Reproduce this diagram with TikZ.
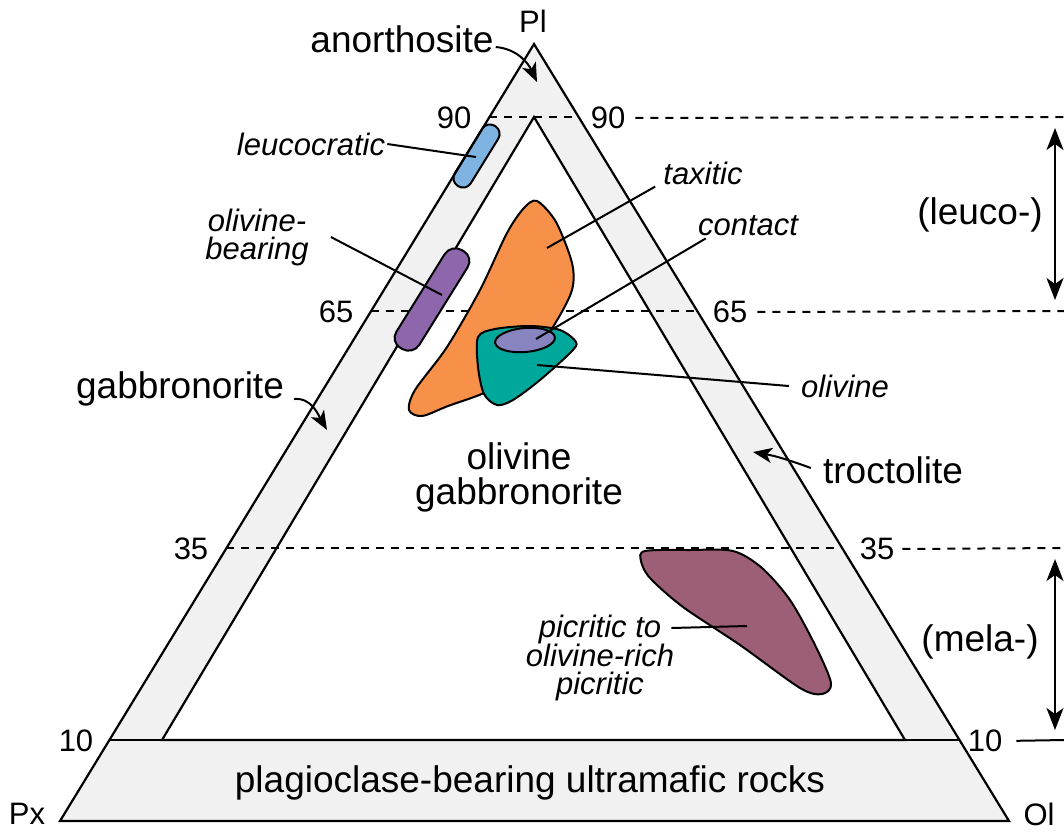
\documentclass[tikz,border=0pt]{standalone}
\usepackage{fontspec}
\setmainfont{Liberation Sans}
\usetikzlibrary{arrows.meta, calc}
\definecolor{bandgray}{HTML}{F0F1F0}
\definecolor{leucoblue}{HTML}{7FB4E2}
\definecolor{olbpurple}{HTML}{8D66AC}
\definecolor{taxorange}{HTML}{F7914A}
\definecolor{olvteal}{HTML}{00A89C}
\definecolor{cntlilac}{HTML}{8884C0}
\definecolor{picmauve}{HTML}{9C5F77}
\tikzset{
  rock/.style   = {font=\fontsize{37}{35}\selectfont, align=center, inner sep=2pt},
  field/.style  = {font=\fontsize{31}{28}\selectfont\itshape, align=center, inner sep=2pt},
  pct/.style    = {font=\fontsize{31}{31}\selectfont, inner sep=2pt},
  frame/.style  = {line width=2.2pt, line join=miter},
  lvl/.style    = {line width=2pt, dash pattern=on 8pt off 7pt},
  lead/.style   = {line width=2pt},
  blob/.style   = {draw, line width=2pt},
  ar/.style     = {-{Stealth[length=19pt,width=15pt,inset=5pt]}, line width=2pt},
  dar/.style    = {{Stealth[length=22pt,width=17pt,inset=6pt]}-{Stealth[length=22pt,width=17pt,inset=6pt]}, line width=2pt},
}
\begin{document}
\begin{tikzpicture}[x=1pt, y=-1pt]
  \useasboundingbox (0,0) rectangle (1064,831);

  % corners of the diagram
  \coordinate (Px) at (60,821);
  \coordinate (Ol) at (1009,821);
  \coordinate (Pl) at (534,44);
  \coordinate (iPl) at (534,117);
  \coordinate (iPx) at (162,740);
  \coordinate (iOl) at (905,740);

  % level lines on the sides
  \coordinate (L90) at ($(Px)!0.906!(Pl)$);
  \coordinate (R90) at ($(Ol)!0.906!(Pl)$);
  \coordinate (L65) at ($(Px)!0.656!(Pl)$);
  \coordinate (R65) at ($(Ol)!0.656!(Pl)$);
  \coordinate (L35) at ($(Px)!0.351!(Pl)$);
  \coordinate (R35) at ($(Ol)!0.351!(Pl)$);
  \coordinate (L10) at ($(Px)!0.104!(Pl)$);
  \coordinate (R10) at ($(Ol)!0.104!(Pl)$);
  \coordinate (e90) at (1064,117);
  \coordinate (e65) at (1064,311);
  \coordinate (e35) at (1064,548);
  \coordinate (e10) at (1064,740);

  % bands
  \fill[bandgray] (Px) -- (Ol) -- (Pl) -- cycle;
  \draw[frame, fill=white] (iPx) -- (iOl) -- (iPl) -- cycle;
  \draw[frame] (L10) -- (R10);

  % percent labels
  \node[pct] (p90l) at (454,118) {90};
  \node[pct] (p90r) at (608,118) {90};
  \node[pct] (p65l) at (336,312) {65};
  \node[pct] (p65r) at (730,312) {65};
  \node[pct] (p35l) at (191,549) {35};
  \node[pct] (p35r) at (877,549) {35};
  \node[pct] (p10l) at (76,741) {10};
  \node[pct] (p10r) at (985,741) {10};

  \draw[lvl] (L90) -- (R90);
  \draw[lvl] (L65) -- (R65);
  \draw[lvl] (L35) -- (R35);
  \draw[lvl, shorten <=8pt] (p90r.east) -- (e90);
  \draw[lvl, shorten <=8pt] (p65r.east) -- (e65);
  \draw[lvl, shorten <=6pt] (p35r.east) -- (e35);
  \draw[lead, shorten <=12pt] (p10r.east) -- (e10);

  % fields
  \draw[blob, fill=leucoblue, rounded corners=9pt]
    (503,131) -- (487,121) -- (450,181) -- (466,191) -- cycle;
  \draw[blob, fill=olbpurple, rounded corners=12pt]
    (474,257) -- (451,244) -- (390,342) -- (413,355) -- cycle;
  \draw[blob, fill=taxorange] plot[smooth cycle] coordinates {
    (537,201) (556,222) (572,263) (572,290) (556,322) (530,360) (490,390)
    (448,406) (422,416) (409,410) (415,390) (447,347) (480,290) (507,233) (524,208)};
  \draw[blob, fill=olvteal] plot[smooth cycle] coordinates {
    (478,337) (495,329) (530,326) (560,330) (576,342) (571,352) (540,380)
    (513,400) (497,405) (484,394) (478,367)};
  \draw[blob, fill=cntlilac, rotate around={5:(525,340)}]
    (525,340) ellipse [x radius=30, y radius=12];
  \draw[blob, fill=picmauve] plot[smooth cycle] coordinates {
    (645,551) (690,550) (733,551) (762,568) (790,600) (815,645) (831,683)
    (822,694) (800,688) (740,645) (683,607) (650,578) (641,561)};

  \draw[frame] (Px) -- (Ol) -- (Pl) -- cycle;

  % corners
  \node[pct] (nPl) at (533,21) {Pl};
  \node[pct] (nPx) at (27,814) {Px};
  \node[pct] (nOl) at (1039,814) {Ol};

  % rock names
  \node[rock] (anor)  at (402,39)  {anorthosite};
  \node[rock] (gabn)  at (180,389) {gabbronorite};
  \node[rock] (troc)  at (893,470) {troctolite};
  \node[rock] (olgab) at (519,477) {olivine\\gabbronorite};
  \node[rock] (umaf)  at (530,783) {plagioclase-bearing ultramafic rocks};
  \node[rock] (leu)   at (980,215) {(leuco-)};
  \node[rock] (mel)   at (980,642) {(mela-)};

  \coordinate (anor1) at (537,82);
  \coordinate (gabn1) at (327,430);
  \coordinate (troc1) at (753,452);
  \draw[ar] ([yshift=-8pt]anor.east) to[out=-5, in=115] (anor1);
  \draw[ar] ([xshift=8pt,yshift=-10pt]gabn.east) to[out=5, in=120] (gabn1);
  \draw[ar] ([xshift=-10pt,yshift=2pt]troc.west) to[out=160, in=-10] (troc1);

  \coordinate (leu1) at (1055,128);
  \coordinate (leu2) at (1055,300);
  \coordinate (mel1) at (1055,559);
  \coordinate (mel2) at (1055,730);
  \draw[dar] (leu1) -- (leu2);
  \draw[dar] (mel1) -- (mel2);

  % field names
  \node[field] (lcr) at (311,144) {leucocratic};
  \node[field] (olb) at (257,237) {olivine-\\bearing};
  \node[field] (tax) at (703,173) {taxitic};
  \node[field] (cnt) at (748,226) {contact};
  \node[field] (olv) at (845,386) {olivine};
  \node[field] (pic) at (600,658) {picritic to\\olivine-rich\\picritic};

  \coordinate (lcr1) at (476,157);
  \coordinate (olb1) at (442,295);
  \coordinate (tax1) at (547,248);
  \coordinate (cnt1) at (536,339);
  \coordinate (olv1) at (537,365);
  \coordinate (pic1) at (747,626);
  \draw[lead] (lcr.east) -- (lcr1);
  \draw[lead] ([xshift=20pt]olb.east) -- (olb1);
  \draw[lead] ([xshift=-6pt]tax.south west) -- (tax1);
  \draw[lead] ([xshift=10pt]cnt.south west) -- (cnt1);
  \draw[lead] ([xshift=-10pt]olv.west) -- (olv1);
  \draw[lead] ([xshift=-5pt,yshift=30pt]pic.east) -- (pic1);
\end{tikzpicture}
\end{document}
